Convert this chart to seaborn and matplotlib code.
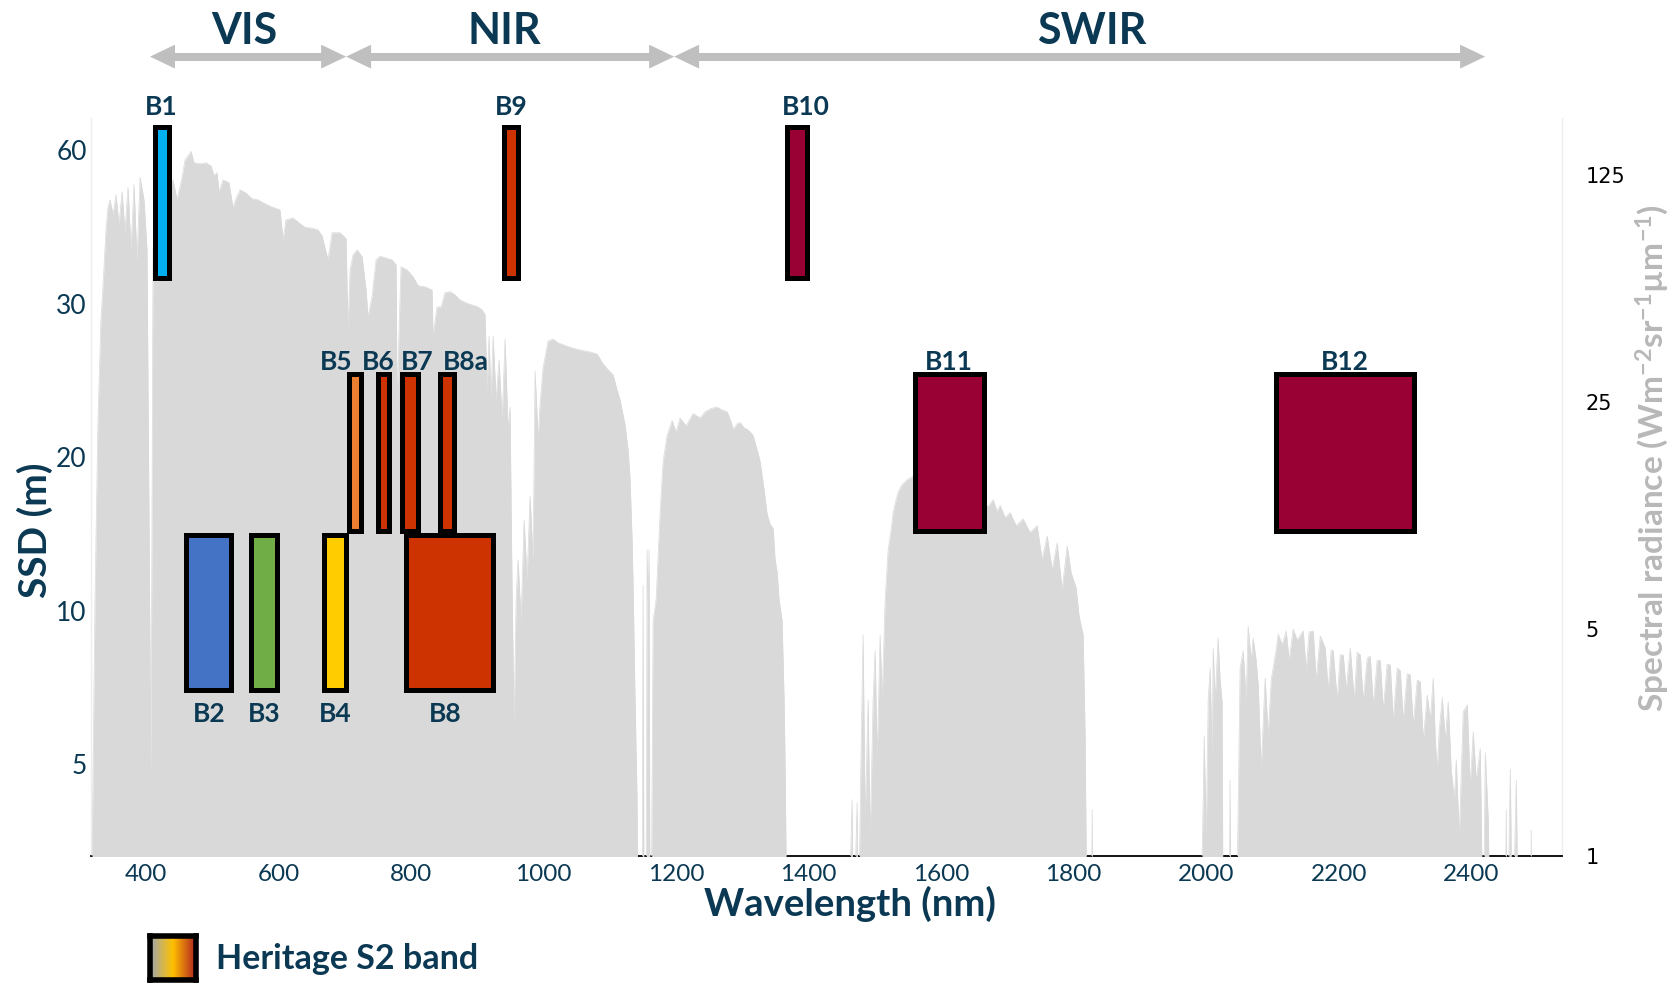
import numpy as np
import matplotlib
matplotlib.use("Agg")
import matplotlib.pyplot as plt
import seaborn as sns
import pandas as pd
from matplotlib.patches import FancyArrowPatch
from matplotlib.colors import LinearSegmentedColormap
from matplotlib.ticker import NullLocator

# ---------------- data ----------------
# Sentinel-2 bands (wavelength range in nm, spatial sampling distance in m)
band_names = ["B1", "B2", "B3", "B4", "B5", "B6", "B7", "B8", "B8a", "B9", "B10", "B11", "B12"]
band_lo = [413, 461, 559, 668, 707, 750, 786, 792, 843, 941, 1367, 1560, 2105]
band_hi = [434, 529, 597, 702, 725, 767, 810, 923, 865, 961, 1398, 1664, 2313]
band_ssd = [60, 10, 10, 10, 20, 20, 20, 10, 20, 60, 60, 20, 20]
band_colors = ["#00b0f0", "#4472c4", "#70ad47", "#ffcc00", "#ed7d31", "#cc3300", "#cc3300",
               "#cc3300", "#cc3300", "#cc3300", "#990033", "#990033", "#990033"]

ssd_tick_labels = [5, 10, 20, 30, 60]
rad_ticks = [1, 5, 25, 125]
wl_ticks = [400, 600, 800, 1000, 1200, 1400, 1600, 1800, 2000, 2200, 2400]

region_names = ["VIS", "NIR", "SWIR"]
region_edges = [406, 702, 1197, 2421]

# solar spectral radiance
vis_nm = [317, 323, 327.5, 332, 335, 339.6, 342.6, 345.7, 350.2, 354.7, 359.2, 363.8, 368.3, 372.8,
          377.4, 381.9, 386.4, 391, 397, 401.5, 407.5, 410.6, 421, 433, 440.8, 446.8, 454.3, 458.9,
          464.9, 468, 472.5, 481.5, 490.6, 498.1, 502.6, 507.2, 510.2, 516.2, 525.3, 531.3, 535.8,
          541.9, 550.9, 560, 569, 579.6, 590.2, 602.3, 606.8, 611.3, 621.9, 629.4, 640, 650.6, 659.6,
          665.7, 674.7, 680.8, 692.8, 701.9, 704.9, 707.9, 712.4, 718.5, 726, 732.1, 735.1, 741.1,
          747.2, 753.2, 762.3, 771.3, 777.4, 778.9, 781.9, 784.9, 794, 803, 810.6, 821.1, 831.7,
          833.2, 839.2, 845.3, 851.3, 858.9, 866.4, 874, 883, 892, 901.1, 907.2, 911.7]
vis_rad = [0.5, 6.1, 22.0, 44.7, 56.5, 84.6, 99.3, 104.7, 94.1, 108.5, 87.5, 110.9, 83.4, 114.4,
           73.4, 116.5, 67.4, 122.9, 104.7, 73.4, 1.71, 73.4, 108.5, 112.4, 120.6, 104.7, 122.2, 139,
           144.3, 147.6, 136.2, 135.2, 136.2, 133, 124.5, 126.9, 110.9, 120.6, 118.1, 98.9, 105.5,
           112.4, 109.9, 105.5, 104.7, 101.8, 99.5, 97.5, 78.8, 90.8, 92.1, 89.4, 86.2, 85.6, 84.6,
           81.1, 68.4, 82.9, 82.9, 79.6, 41.6, 63.7, 70.8, 73.4, 70.2, 55.3, 45.7, 52.7,
           68.4, 70.2, 69.3, 68.4, 66.1, 23.6, 41.6, 65.1, 63.7, 60.7, 57, 56.5, 55.3,
           39.8, 49.0, 49.0, 54.2, 54.6, 53.4, 51.5, 50.4, 49.7, 49.0, 48.0, 46.4]

nir_nm = [914.7, 917.7, 920.7, 923.8, 928.3, 932.8, 937.4, 941.9, 946.4, 949.4, 952.4, 955.5, 958.5,
          961.5, 966, 970.6, 975.1, 979.6, 984.1, 987.2, 991.7, 994.7, 999.2, 1006.8, 1014.3, 1021.9,
          1029.4, 1040, 1055.1, 1070.2, 1080.8, 1089.8, 1097.3, 1104.9, 1110.9, 1115.4, 1120, 1123,
          1127.5, 1130.5, 1133.6, 1135.1, 1138.1, 1141.1, 1142.6, 1148.7, 1150.2, 1151.7, 1154.7,
          1156.2, 1157.7, 1159.2, 1160.7, 1162.2, 1165.3, 1169.8, 1175.8, 1180.4, 1186.4, 1194, 1200,
          1206, 1215.1, 1225.6, 1236.2, 1243.8, 1251.3, 1261.9, 1269.4, 1277, 1283, 1286, 1292,
          1296.6, 1302.6, 1307.2, 1311.7, 1316.2, 1322.2, 1326.8, 1332.8, 1337.3, 1341.9, 1346.4,
          1349.4, 1352.4, 1355.5, 1360, 1363, 1364.5, 1367.5]
nir_rad = [27.2, 39.8, 25.4, 39.9, 25.4, 33.7, 22.0, 39.0, 20.5, 24.1, 6.8, 2.46, 6.14,
           8.17, 5.3, 10.8, 7.1, 12.8, 8.17, 31.1, 19.1, 24.6, 31.8, 38.5, 39.0, 38.0,
           37.5, 36.8, 36.1, 35.6, 35.1, 32.7, 31.4, 30.3, 27.2, 25.4, 22.8, 21.2,
           17.8, 14.5, 9.4, 6.8, 3.02, 1.49, 0.5, 0.5, 6.8, 0.5, 0.5,
           8.76, 6.1, 8.76, 0.5, 0.5, 5.3, 6.14, 11.3, 16.4, 19.7, 21.9, 20.2,
           22.3, 21.1, 23.0, 22.3, 23.3, 23.8, 24.1, 23.6, 23.3, 21.7, 20.6, 21.4,
           21.6, 20.8, 20.6, 20.2, 19.7, 17.8, 16.4, 13.4, 11.3, 10.5, 10.2,
           8.17, 7.5, 6.14, 5.3, 3.02, 1.92, 0.5]

swir1_nm = [1459.6, 1465.6, 1467.2, 1473.2, 1474.7, 1479.2, 1482.2, 1485.3, 1489.8, 1492.8, 1497.3,
            1500.4, 1503.4, 1507.9, 1510.9, 1515.5, 1520, 1524.5, 1527.5, 1532, 1535.1, 1541.1,
            1548.7, 1568.3, 1613.6, 1651.3, 1670.9, 1678.5, 1684.5, 1689, 1696.6, 1704.1, 1713.2,
            1723.7, 1734.3, 1744.9, 1752.4, 1760, 1767.5, 1775.1, 1782.6, 1790.2, 1796.2, 1803.7,
            1808.3, 1814.3, 1817.3, 1820.3, 1826.4, 1827.9, 1829.4]
swir1_rad = [0.5, 1.49, 0.5, 1.46, 0.5, 2.12, 4.8, 1.29, 3.02, 1.12, 3.02,
             4.28, 1.98, 4.8, 3.02, 6.14, 8.76, 10.1, 11.4, 12.5, 13.2, 13.9,
             14.4, 15.2, 14.6, 12.9, 11.9, 12.5, 11.5, 12.0, 11.0, 11.4, 10.4,
             10.9, 9.9, 10.4, 8.17, 9.67, 7.6, 9.2, 6.6, 9.0, 7.45, 6.7,
             5.45, 4.8, 2.34, 0.5, 0.5, 1.39, 0.5]

swir2_nm = [1991, 1995.5, 1997, 2000, 2003, 2006, 2009, 2010.5, 2013.6, 2018, 2021, 2024, 2025.6,
            2034.6, 2036, 2037.6, 2045.2, 2051.2, 2055.8, 2060.3, 2063.3, 2067.9, 2070.9, 2075.4,
            2078.5, 2083, 2087.5, 2089, 2093.5, 2098.1, 2101.1, 2105.6, 2108.7, 2114.7, 2120.7,
            2125.2, 2131.3, 2137.3, 2146.4, 2150.9, 2155.4, 2161.5, 2166, 2172.1, 2179.6, 2184.1,
            2188.7, 2191.7, 2197.7, 2202.3, 2206.8, 2211.3, 2217.4, 2223.4, 2227.9, 2232.5, 2237,
            2243, 2247.6, 2252.1, 2258.1, 2262.7, 2267.2, 2273.2, 2277.8, 2282.3, 2288.3, 2292.9,
            2297.4, 2303.4, 2308, 2312.5, 2318.5, 2323.1, 2327.6, 2333.6, 2338.2, 2342.7, 2345.7,
            2348.7, 2351.7, 2356.3, 2360.8, 2365.3, 2369.8, 2374.4, 2377.4, 2381.9, 2387.9, 2394,
            2398.5, 2403, 2407.6, 2413.6, 2418.1, 2421.2, 2425.7, 2428.7, 2451.3, 2452.8, 2454.3,
            2459, 2461.9, 2468, 2471, 2489, 2490.5, 2492, 2534]
swir2_rad = [0.5, 1.49, 2.34, 1.12, 3.02, 3.79, 1.98, 4.37, 3.02, 4.69, 3.48, 2.98, 0.5,
             0.5, 1.71, 0.5, 0.5, 3.79, 4.28, 3.02, 5.1, 4.0, 4.69, 4.0,
             3.36, 1.85, 3.02, 3.53, 2.34, 3.48, 3.79, 4.31, 4.82, 4.47, 4.93,
             4.0, 5.0, 4.62, 4.93, 3.74, 4.9, 4.93, 3.48, 4.76, 4.37, 3.25,
             4.31, 4.28, 3.02, 4.16, 4.16, 3.25, 4.37, 3.02, 4.24, 4.16, 3.02,
             4.06, 4.13, 2.92, 4.0, 4.0, 2.82, 3.9, 3.87, 2.62, 3.79, 3.72,
             2.62, 3.64, 3.61, 2.53, 3.48, 3.44, 2.28, 3.13, 2.62, 3.53, 2.28,
             1.85, 2.44, 3.07, 2.28, 2.98, 1.84, 1.49, 1.98, 1.14, 2.78, 2.92,
             1.64, 2.41, 1.71, 2.14, 0.5, 2.08, 1.29, 0.5, 0.5, 1.39, 0.5,
             1.85, 0.5, 1.71, 0.5, 0.5, 1.2, 0.5, 0.5]

for a, b in [(vis_nm, vis_rad), (nir_nm, nir_rad), (swir1_nm, swir1_rad), (swir2_nm, swir2_rad)]:
    assert len(a) == len(b), (len(a), len(b))

spec = pd.DataFrame({"nm": vis_nm + nir_nm + swir1_nm + swir2_nm,
                     "rad": vis_rad + nir_rad + swir1_rad + swir2_rad})

# ---------------- style ----------------
sns.set_theme(style="white")
plt.rcParams["font.family"] = ["Lato", "DejaVu Sans"]
plt.rcParams["mathtext.fontset"] = "custom"
plt.rcParams["mathtext.rm"] = "Lato:bold"
plt.rcParams["mathtext.it"] = "Lato:bold"
plt.rcParams["mathtext.bf"] = "Lato:bold"

NAVY = "#0b3954"
GREY_SPEC = "#d9d9d9"
ARROW = "#bfbfbf"
W, H = 1671, 984

fig = plt.figure(figsize=(W / 100, H / 100), dpi=100)
ax = fig.add_axes([91 / W, 1 - 856 / H, 1471 / W, 738 / H])

# spectrum (right, log axis)
ax.fill_between(spec["nm"], 0.5, spec["rad"], color=GREY_SPEC, lw=0, zorder=3)
sns.lineplot(data=spec, x="nm", y="rad", ax=ax, color=GREY_SPEC, lw=0.5, zorder=3,
             estimator=None, sort=False)
ax.set_yscale("log", base=5)
ax.set_ylim(1, 187)
ax.set_xlim(317, 2537)
ax.set_xlabel("")
ax.set_ylabel("")
ax.set_xticks(wl_ticks, labels=[str(v) for v in wl_ticks])
ax.tick_params(axis="x", labelsize=17.5, labelcolor=NAVY, length=0, pad=6)
ax.spines["top"].set_visible(False)
for s in ("left", "right"):
    ax.spines[s].set_color("#eeeeee")
    ax.spines[s].set_linewidth(1)
ax.spines["bottom"].set_color("black")
ax.spines["bottom"].set_linewidth(1.3)

# bands (left, SSD axis)
ax2 = ax.twinx()
ax2.set_ylim(-0.6, 4.21)
ax2.set_yticks(range(len(ssd_tick_labels)), labels=[str(v) for v in ssd_tick_labels])
ax2.yaxis.tick_left()
ax2.tick_params(axis="y", labelsize=19, labelcolor=NAVY, length=0, pad=3)
for s in ax2.spines.values():
    s.set_visible(False)

# right-hand radiance ticks (after twinx, which resets the side)
ax.yaxis.tick_right()
ax.set_yticks(rad_ticks, labels=[str(v) for v in rad_ticks])
ax.yaxis.set_minor_locator(NullLocator())
ax.tick_params(axis="y", which="both", labelsize=15, labelcolor="black", length=0, pad=17,
               left=False, labelleft=False, right=True, labelright=True)
for lab in ax.get_yticklabels():
    lab.set_fontfamily("DejaVu Sans")

row_span = {10: (0.48, 1.49), 20: (1.52, 2.54), 60: (3.17, 4.15)}
label_base = {10: 0.274, 20: 2.565, 60: 4.23}
label_shift = {"B5": -29, "B6": -8, "B7": 12, "B8a": 29, "B10": 13, "B8": -6}

for name, lo, hi, ssd, col in zip(band_names, band_lo, band_hi, band_ssd, band_colors):
    b, t = row_span[ssd]
    ax2.bar(lo, t - b, width=hi - lo, bottom=b, align="edge", color=col,
            edgecolor="black", linewidth=3.6, clip_on=False, zorder=4)
    xc = (lo + hi) / 2 + label_shift.get(name, 0)
    ax2.text(xc, label_base[ssd], name, ha="center", va="baseline", fontsize=19,
             fontweight="bold", color=NAVY, clip_on=False, zorder=5)

# spectral-region arrows
arrow_y = 4.61
head_nm = 30
for i, rname in enumerate(region_names):
    x0, x1 = region_edges[i], region_edges[i + 1]
    ax2.plot([x0 + head_nm, x1 - head_nm], [arrow_y, arrow_y], color=ARROW, lw=5.8,
             solid_capstyle="butt", clip_on=False, zorder=5)
    arr = FancyArrowPatch((x0, arrow_y), (x1, arrow_y), transform=ax2.transData,
                          arrowstyle="<|-|>,head_length=0.9,head_width=0.43",
                          mutation_scale=20, lw=0, color=ARROW, shrinkA=0, shrinkB=0,
                          clip_on=False, zorder=5)
    ax2.add_patch(arr)

region_label_x = [244, 504, 1092]
for rname, xpx in zip(region_names, region_label_x):
    fig.text(xpx / W, 1 - 44 / H, rname, ha="center", va="baseline", fontsize=31,
             fontweight="bold", color=NAVY)

# axis titles
fig.text(850 / W, 1 - 916 / H, "Wavelength (nm)", ha="center", va="baseline",
         fontsize=27.5, fontweight="bold", color=NAVY)
fig.text(35 / W, 1 - 530 / H, "SSD (m)", ha="center", va="center", rotation=90,
         fontsize=28, fontweight="bold", color=NAVY)
fig.text(1652 / W, 1 - 458 / H, r"Spectral radiance (Wm$^{-2}$sr$^{-1}$µm$^{-1}$)",
         ha="center", va="center", rotation=90, fontsize=24, fontweight="bold",
         color="#b8b8b8")

# legend
lax = fig.add_axes([150 / W, 1 - 980 / H, 46 / W, 44 / H])
cmap = LinearSegmentedColormap.from_list("heritage", ["#9fa7b0", "#ffc000", "#b22222"])
lax.imshow(np.linspace(0, 1, 64)[None, :], aspect="auto", cmap=cmap)
lax.set_xticks([])
lax.set_yticks([])
for s in lax.spines.values():
    s.set_visible(True)
    s.set_color("black")
    s.set_linewidth(4)
fig.text(216 / W, 1 - 969 / H, "Heritage S2 band", ha="left", va="baseline", fontsize=24.5,
         fontweight="bold", color=NAVY)

fig.savefig("out.png", dpi=100)
